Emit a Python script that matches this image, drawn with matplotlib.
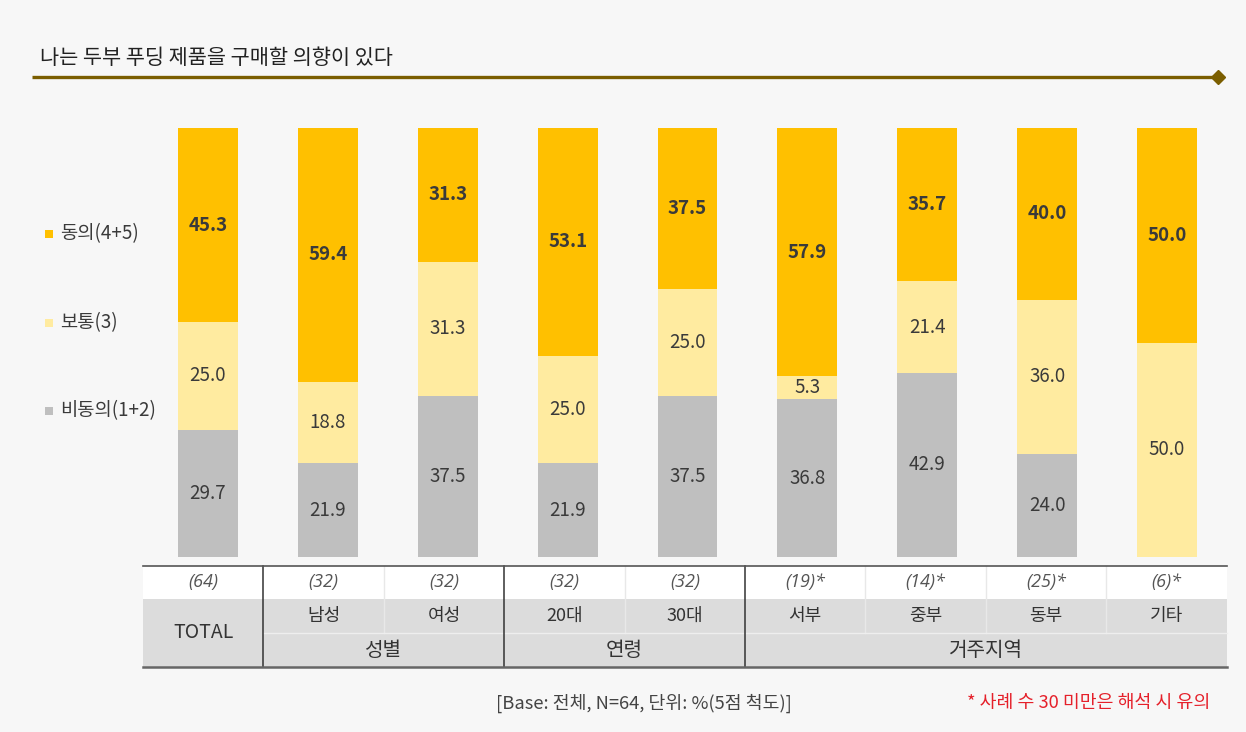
import matplotlib
matplotlib.use('Agg')
import matplotlib.pyplot as plt
from matplotlib.patches import Rectangle
import numpy as np

plt.rcParams['font.family'] = ['Noto Sans CJK KR', 'DejaVu Sans']

# ---------------- data ----------------
title = '나는 두부 푸딩 제품을 구매할 의향이 있다'
groups = ['TOTAL', '남성', '여성', '20대', '30대', '서부', '중부', '동부', '기타']
sample_n = ['(64)', '(32)', '(32)', '(32)', '(32)', '(19)*', '(14)*', '(25)*', '(6)*']
disagree = [29.7, 21.9, 37.5, 21.9, 37.5, 36.8, 42.9, 24.0, 0.0]
neutral = [25.0, 18.8, 31.3, 25.0, 25.0, 5.3, 21.4, 36.0, 50.0]
agree = [45.3, 59.4, 31.3, 53.1, 37.5, 57.9, 35.7, 40.0, 50.0]
series_names = ['동의(4+5)', '보통(3)', '비동의(1+2)']
group_headers = [('성별', 1, 2), ('연령', 3, 4), ('거주지역', 5, 8)]
base_note = '[Base: 전체, N=64, 단위: %(5점 척도)]'
caution_note = '* 사례 수 30 미만은 해석 시 유의'

# ---------------- style ----------------
W, H = 1246, 732
BG = '#F7F7F7'
C_AGREE = '#FFC000'
C_NEUT = '#FFEBA0'
C_DIS = '#BFBFBF'
TXT = '#3A3A3A'

fig = plt.figure(figsize=(W / 100, H / 100), dpi=100, facecolor=BG)

# overlay axes in pixel coordinates for decorations
ov = fig.add_axes([0, 0, 1, 1], zorder=0)
ov.set_xlim(0, W)
ov.set_ylim(H, 0)
ov.axis('off')

# bar axes
ax = fig.add_axes([148 / W, 1 - 557 / H, 1079 / W, 429 / H], zorder=2)
ax.set_xlim(-0.5, 8.5)
ax.set_ylim(0, 100)
ax.axis('off')
ax.patch.set_alpha(0)

x = np.arange(len(groups))
d = np.array(disagree)
n = np.array(neutral)
a = np.array(agree)
bw = 0.5
ax.bar(x, d, bw, color=C_DIS, linewidth=0)
ax.bar(x, n, bw, bottom=d, color=C_NEUT, linewidth=0)
ax.bar(x, a, bw, bottom=d + n, color=C_AGREE, linewidth=0)

LBL = 13.5
for i in range(len(groups)):
    if d[i] > 0:
        ax.text(x[i], d[i] / 2, f'{d[i]:.1f}', ha='center', va='center',
                fontsize=LBL, color=TXT)
    if n[i] > 0:
        ax.text(x[i], d[i] + n[i] / 2, f'{n[i]:.1f}', ha='center', va='center',
                fontsize=LBL, color=TXT)
    if a[i] > 0:
        ax.text(x[i], d[i] + n[i] + a[i] / 2, f'{a[i]:.1f}', ha='center',
                va='center', fontsize=LBL, color=TXT, fontweight='bold')

# title + rule
ov.text(40, 58, title, fontsize=15, color='#222222', ha='left', va='center',
        fontweight='medium')
ov.plot([32, 1216], [77, 77], color='#7B5E00', lw=2.4, solid_capstyle='butt')
ov.plot([1218], [77], marker='D', markersize=7.5, color='#7B5E00')

# legend (manual)
leg_y = [234, 323, 411]
for name, col, yy in zip(series_names, [C_AGREE, C_NEUT, C_DIS], leg_y):
    ov.add_patch(Rectangle((45, yy - 4), 8, 8, color=col, lw=0))
    ov.text(60, yy, name, fontsize=13.5, color=TXT, ha='left', va='center')

# table
t0, step = 143, 120.4
edges = [t0 + step * i for i in range(len(groups) + 1)]
r0, r1, r2, r3 = 566, 599, 633, 667
ov.add_patch(Rectangle((edges[0], r0), edges[-1] - edges[0], r1 - r0,
                       facecolor='white', lw=0))
ov.add_patch(Rectangle((edges[0], r1), edges[-1] - edges[0], r3 - r1,
                       facecolor='#DCDCDC', lw=0))
# thin inner separators
thick_cols = [1] + [g[1] for g in group_headers[1:]]
for i in range(1, len(groups)):
    if i not in thick_cols:
        ov.plot([edges[i], edges[i]], [r0, r2], color='#E8E8E8', lw=1.0)
ov.plot([edges[1], edges[-1]], [r2, r2], color='#EEEEEE', lw=1.0)
for i in thick_cols:
    ov.plot([edges[i], edges[i]], [r0, r3], color='#333333', lw=1.1)
ov.plot([edges[0], edges[-1]], [r0, r0], color='#555555', lw=1.2)
ov.plot([edges[0], edges[-1]], [r3, r3], color='#666666', lw=1.8)

for i in range(len(groups)):
    cx = (edges[i] + edges[i + 1]) / 2
    ov.text(cx, (r0 + r1) / 2, sample_n[i], fontsize=13, color='#555555',
            ha='center', va='center', family='Open Sans', style='italic')
    if i == 0:
        ov.text(cx, (r1 + r3) / 2, groups[i], fontsize=14, color='#333333',
                ha='center', va='center')
    else:
        ov.text(cx, (r1 + r2) / 2, groups[i], fontsize=13, color='#333333',
                ha='center', va='center')
for name, s, e in group_headers:
    cx = (edges[s] + edges[e + 1]) / 2
    ov.text(cx, (r2 + r3) / 2, name, fontsize=14.5, color='#333333',
            ha='center', va='center', fontweight='medium')

# notes
ov.text(644, 703, base_note, fontsize=13.2, color='#444444', ha='center', va='center')
ov.text(1210, 703, caution_note, fontsize=13.2, color='#E5202A', ha='right',
        va='center')

fig.savefig('out.png', dpi=100, facecolor=BG)
